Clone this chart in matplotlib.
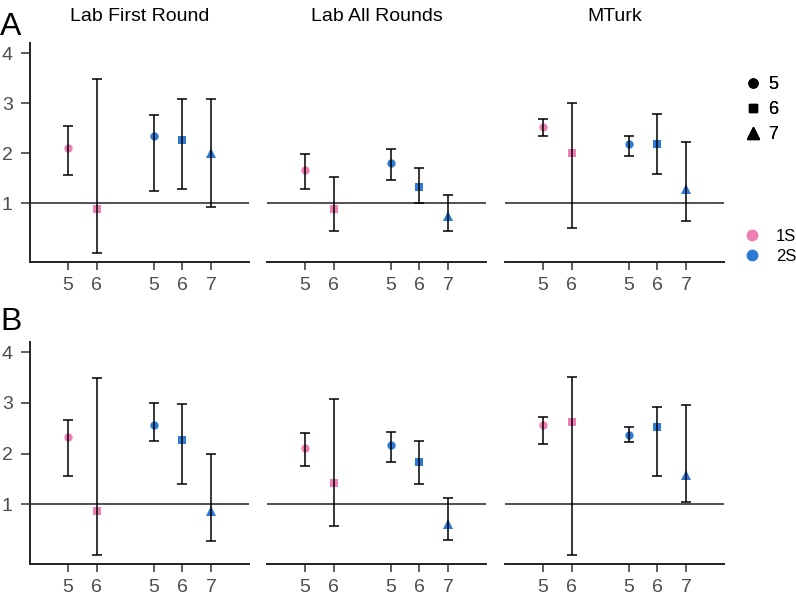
import matplotlib.pyplot as plt
from matplotlib.lines import Line2D

plt.rcParams['font.family'] = ['Liberation Sans', 'DejaVu Sans']

# x positions of the five conditions in every panel
positions = [1, 2, 4, 5, 6]
tick_labels = ['5', '6', '5', '6', '7']
series = ['1S', '1S', '2S', '2S', '2S']
sizes = ['5', '6', '5', '6', '7']
panel_titles = ['Lab First Round', 'Lab All Rounds', 'MTurk']

# Row A
a_first_est = [2.11, 0.88, 2.35, 2.27, 2.00]
a_first_lo = [1.57, 0.01, 1.25, 1.28, 0.93]
a_first_hi = [2.55, 3.49, 2.77, 3.08, 3.08]
a_all_est = [1.66, 0.88, 1.81, 1.32, 0.74]
a_all_lo = [1.29, 0.45, 1.47, 1.00, 0.44]
a_all_hi = [1.99, 1.52, 2.09, 1.70, 1.16]
a_mturk_est = [2.53, 2.00, 2.18, 2.18, 1.29]
a_mturk_lo = [2.34, 0.50, 1.95, 1.58, 0.65]
a_mturk_hi = [2.69, 3.00, 2.35, 2.78, 2.23]

# Row B
b_first_est = [2.33, 0.87, 2.57, 2.27, 0.86]
b_first_lo = [1.56, 0.00, 2.25, 1.40, 0.28]
b_first_hi = [2.67, 3.49, 3.00, 2.97, 2.00]
b_all_est = [2.11, 1.42, 2.16, 1.84, 0.60]
b_all_lo = [1.75, 0.56, 1.84, 1.39, 0.29]
b_all_hi = [2.40, 3.08, 2.43, 2.25, 1.13]
b_mturk_est = [2.57, 2.63, 2.37, 2.53, 1.57]
b_mturk_lo = [2.19, 0.00, 2.22, 1.55, 1.04]
b_mturk_hi = [2.72, 3.50, 2.52, 2.92, 2.96]

rows = [
    [(a_first_est, a_first_lo, a_first_hi),
     (a_all_est, a_all_lo, a_all_hi),
     (a_mturk_est, a_mturk_lo, a_mturk_hi)],
    [(b_first_est, b_first_lo, b_first_hi),
     (b_all_est, b_all_lo, b_all_hi),
     (b_mturk_est, b_mturk_lo, b_mturk_hi)],
]

colors = {'1S': '#F07FB5', '2S': '#2C7AD6'}
shape = {'5': 'o', '6': 's', '7': '^'}
msize = {'5': 6, '6': 5.5, '7': 7.5}
tick_grey = '#4D4D4D'

fig = plt.figure(figsize=(7.96, 6.04), dpi=100)

col_left = [30 / 796, 267 / 796, 505 / 796]
col_w = 219 / 796
row_bottom = [342 / 604, 40 / 604]
row_h = [219 / 604, 222 / 604]

for r in range(2):
    for c in range(3):
        ax = fig.add_axes([col_left[c], row_bottom[r], col_w, row_h[r]])
        est, lo, hi = rows[r][c]
        ax.axhline(1, color='#222222', lw=1.1, zorder=1)
        for i in range(len(positions)):
            ax.plot(positions[i], est[i], marker=shape[sizes[i]],
                    color=colors[series[i]], markersize=msize[sizes[i]],
                    markeredgewidth=0, linestyle='none', zorder=2)
            ax.errorbar(positions[i], est[i],
                        yerr=[[est[i] - lo[i]], [hi[i] - est[i]]],
                        fmt='none', ecolor='black', elinewidth=1.1,
                        capsize=3.5, capthick=1.1, zorder=3)
        ax.set_xlim(-0.32, 7.32)
        ax.set_ylim(-0.18, 4.2)
        ax.set_xticks(positions)
        ax.set_xticklabels(tick_labels)
        ax.tick_params(axis='x', length=6, width=1.1, color='#333333',
                       labelsize=14, labelcolor=tick_grey, pad=5)
        for s in ['top', 'right']:
            ax.spines[s].set_visible(False)
        ax.spines['bottom'].set_linewidth(1.4)
        ax.spines['bottom'].set_color('#222222')
        if c == 0:
            ax.set_yticks([1, 2, 3, 4])
            ax.tick_params(axis='y', length=6.5, width=1.1, color='#333333',
                           labelsize=14, labelcolor=tick_grey, pad=6)
            ax.spines['left'].set_linewidth(1.4)
            ax.spines['left'].set_color('#222222')
        else:
            ax.set_yticks([])
            ax.spines['left'].set_visible(False)
        if r == 0:
            fig.text(col_left[c] + col_w / 2, 0.9657, panel_titles[c],
                     fontsize=14, ha='center', va='baseline')

fig.text(0.0, 0.942, 'A', fontsize=23, ha='left', va='baseline')
fig.text(0.0, 0.4536, 'B', fontsize=23, ha='left', va='baseline')

shape_handles = [Line2D([], [], marker=shape[k], color='black', linestyle='none',
                        markersize=msize[k] + 0.5, label=k) for k in ['5', '6', '7']]
leg1 = fig.legend(handles=shape_handles, loc='upper left',
                  bbox_to_anchor=(743.7 / 796, 0.8742), frameon=False, fontsize=13,
                  borderpad=0, borderaxespad=0, handletextpad=0.35,
                  labelspacing=0.44, handlelength=1.0)
color_handles = [Line2D([], [], marker='o', color=colors[k], linestyle='none',
                        markersize=7.5, label=k) for k in ['1S', '2S']]
fig.legend(handles=color_handles, loc='upper left',
           bbox_to_anchor=(743.7 / 796, 0.6215), frameon=False, fontsize=12,
           borderpad=0, borderaxespad=0, handletextpad=0.93,
           labelspacing=0.3, handlelength=1.0)
fig.add_artist(leg1)

plt.savefig('out.png', dpi=100)
plt.close()
